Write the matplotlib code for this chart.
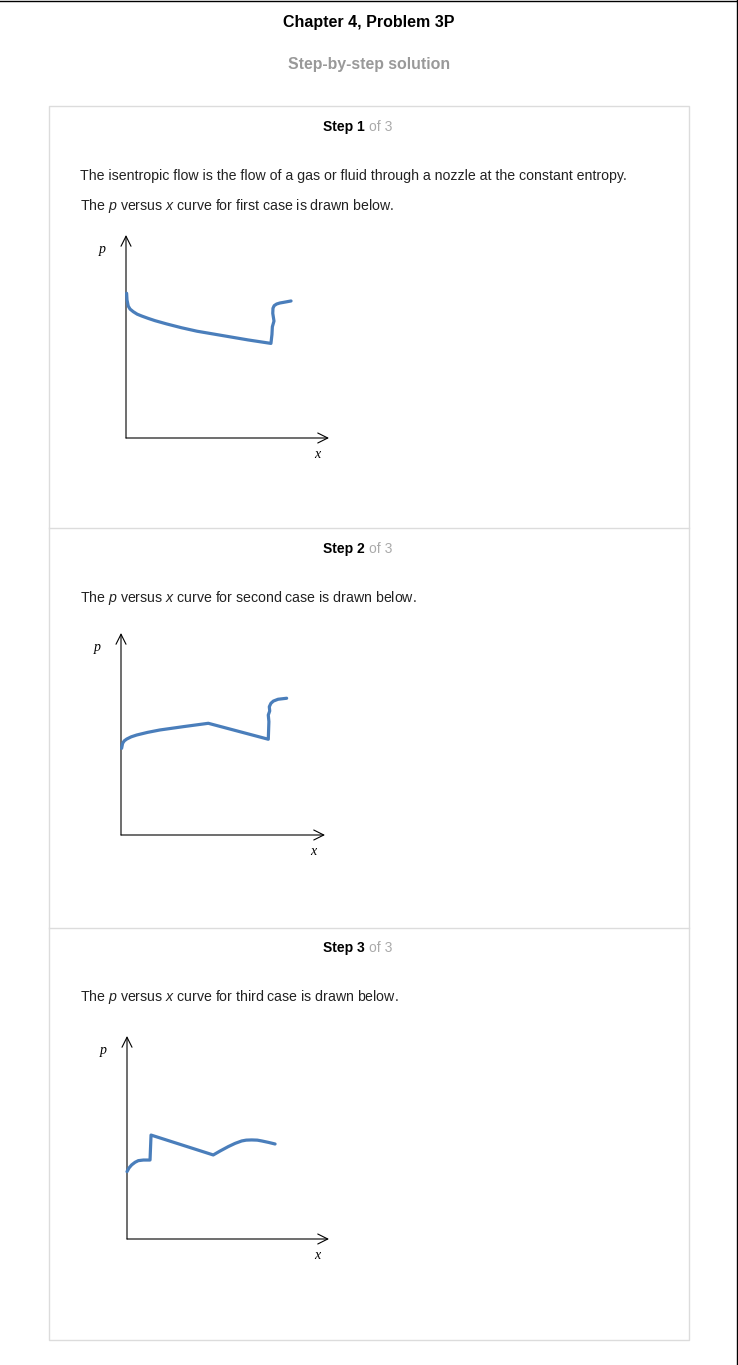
import numpy as np
import matplotlib.pyplot as plt

plt.rcParams['font.family'] = ['Liberation Sans', 'DejaVu Sans']
plt.rcParams['mathtext.fontset'] = 'custom'
plt.rcParams['mathtext.rm'] = 'Liberation Sans'
plt.rcParams['mathtext.it'] = 'Liberation Sans:italic'

# sketch data (x, p in arbitrary units, axes run 0..10)
x1 = [0.03, 0.05, 0.11, 0.20, 0.36, 0.55, 0.77, 1.10, 1.43, 2.00, 2.74, 3.50, 4.38, 5.20, 6.02, 7.14,
      7.19, 7.21, 7.29, 7.23, 7.24, 7.30, 7.42, 7.58, 7.75, 8.13]
p1 = [7.13, 6.80, 6.50, 6.35, 6.22, 6.10, 6.01, 5.89, 5.78, 5.62, 5.43, 5.26, 5.11, 4.97, 4.83, 4.66,
      5.10, 5.48, 5.76, 6.14, 6.39, 6.52, 6.60, 6.65, 6.68, 6.75]

x2 = [0.03, 0.08, 0.16, 0.28, 0.50, 0.77, 1.30, 1.91, 3.10, 4.28, 7.22, 7.25, 7.22, 7.29, 7.27,
      7.35, 7.47, 7.70, 8.12]
p2 = [4.29, 4.54, 4.66, 4.75, 4.86, 4.95, 5.08, 5.20, 5.37, 5.53, 4.74, 5.61, 5.94, 6.14, 6.35,
      6.52, 6.63, 6.72, 6.77]

x3 = [0.00, 0.10, 0.23, 0.40, 0.56, 0.81, 1.14, 1.19, 4.27, 4.60, 5.01, 5.35, 5.68, 5.90, 6.17,
      6.45, 6.67, 7.00, 7.33]
p3 = [3.32, 3.50, 3.65, 3.78, 3.86, 3.89, 3.89, 5.12, 4.14, 4.33, 4.55, 4.71, 4.83, 4.87, 4.88,
      4.87, 4.83, 4.76, 4.68]

steps = ['Step 1', 'Step 2', 'Step 3']
captions = ['The $p$ versus $x$ curve for first case is drawn below.',
            'The $p$ versus $x$ curve for second case is drawn below.',
            'The $p$ versus $x$ curve for third case is drawn below.']
intro = 'The isentropic flow is the flow of a gas or fluid through a nozzle at the constant entropy.'

W, H = 738, 1365
fig = plt.figure(figsize=(W / 100, H / 100), dpi=100)

page = fig.add_axes([0, 0, 1, 1])
page.set_xlim(0, W)
page.set_ylim(H, 0)
page.axis('off')

# page frame
page.plot([0, 736.5], [0.5, 0.5], color='black', lw=1)
page.plot([736.5, 736.5], [0, H], color='black', lw=1)

# solution box
box_col = '#dcdcdc'
page.add_patch(plt.Rectangle((48.5, 105.5), 640, 1234, fill=False, ec=box_col, lw=1))
for yy in [527.5, 927.5]:
    page.plot([48.5, 688.5], [yy, yy], color=box_col, lw=1)

page.text(369, 22, 'Chapter 4, Problem 3P', ha='center', va='center', fontsize=11.5, weight='bold', color='black')
page.text(369, 64, 'Step-by-step solution', ha='center', va='center', fontsize=11.4, weight='bold', color='#999999')

step_y = [127, 549, 948]
cap_y = [206, 598, 997]
for s, sy, cap, cy in zip(steps, step_y, captions, cap_y):
    page.text(365, sy, s, ha='right', va='center', fontsize=10, weight='bold', color='black')
    page.text(369, sy, 'of 3', ha='left', va='center', fontsize=10, color='#aaaaaa')
    page.text(80, cy, cap, ha='left', va='center', fontsize=10.2, color='#222222')
page.text(80, 176, intro, ha='left', va='center', fontsize=10.2, color='#222222')

# plot panels: origin (px), width, height
panels = [(126, 438, 203, 203, x1, p1),
          (121, 835, 204, 202, x2, p2),
          (127, 1239, 202, 203, x3, p3)]

for ox, oy, w, h, xs, ps in panels:
    ax = fig.add_axes([ox / W, (H - oy) / H, w / W, h / H])
    ax.set_xlim(0, 10)
    ax.set_ylim(0, 10)
    ax.axis('off')
    arrow = dict(arrowstyle='->,head_length=0.6,head_width=0.3', lw=0.8, color='black',
                 mutation_scale=12, shrinkA=0, shrinkB=0)
    ax.annotate('', xy=(10, 0), xytext=(0, 0), arrowprops=arrow, annotation_clip=False)
    ax.annotate('', xy=(0, 10), xytext=(0, 0), arrowprops=arrow, annotation_clip=False)
    ax.text(-1.15, 9.3, 'p', family='Liberation Serif', style='italic', fontsize=10,
            ha='center', va='center')
    ax.text(9.4, -0.8, 'x', family='Liberation Serif', style='italic', fontsize=10,
            ha='center', va='center')
    ax.plot(xs, ps, color='#4a7ebb', lw=2.3, solid_capstyle='round',
            solid_joinstyle='round', clip_on=False, zorder=5)

fig.savefig('out.png', dpi=100)
